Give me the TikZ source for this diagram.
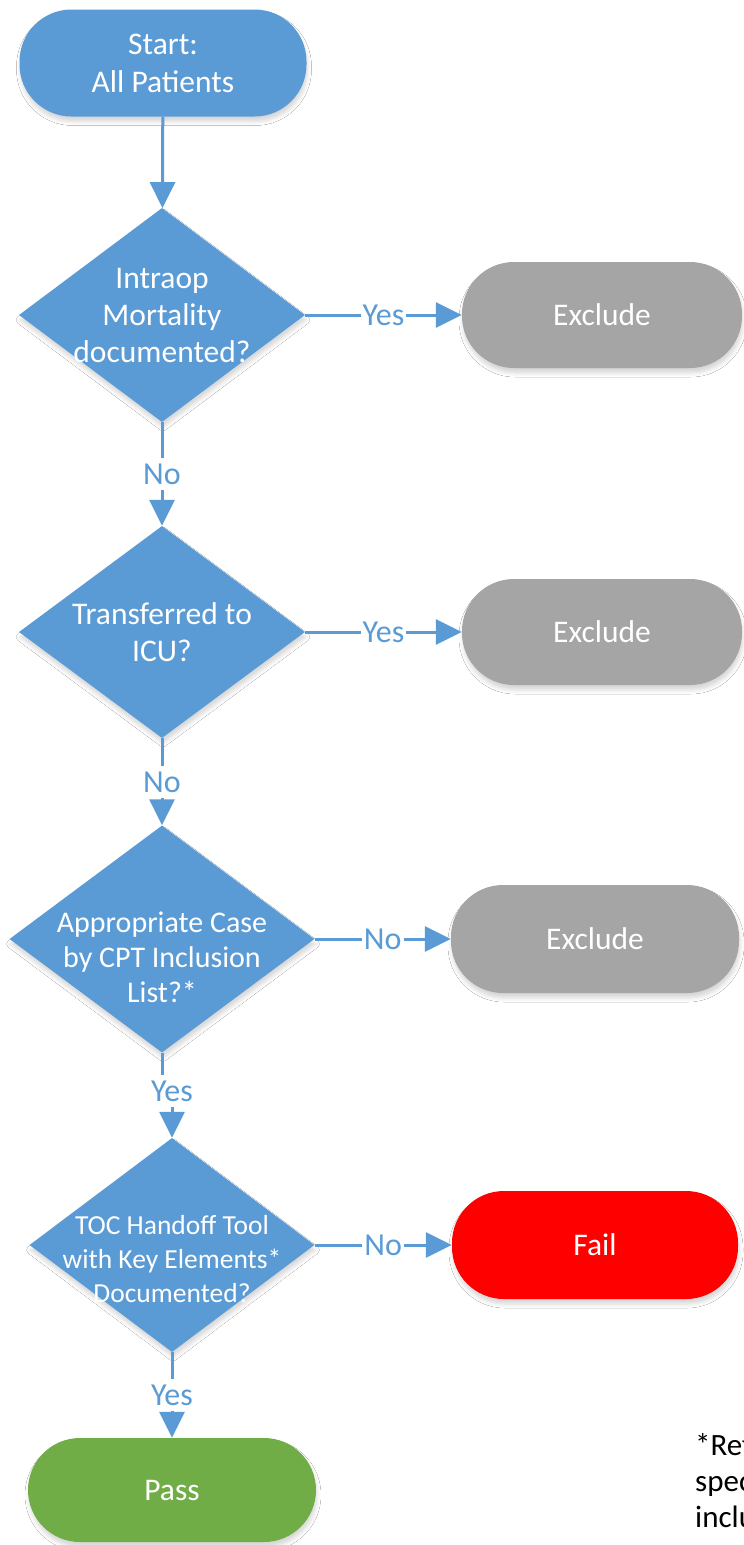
\documentclass[tikz,border=0pt]{standalone}
\usepackage{fontspec}
\setmainfont{Carlito}
\usetikzlibrary{shapes.geometric,arrows.meta,shadows.blur}
\definecolor{flowblue}{HTML}{5B9BD5}
\definecolor{flowgray}{HTML}{A5A5A5}
\definecolor{flowred}{HTML}{FF0000}
\definecolor{flowgreen}{HTML}{70AD47}
\begin{document}
\begin{tikzpicture}[x=1pt,y=-1pt,
  softshadow/.style={blur shadow={shadow xshift=1pt,shadow yshift=-5pt,shadow blur radius=4pt,shadow opacity=16}},
  term/.style={rectangle,rounded corners=52pt,inner sep=0pt,text=white,align=center,
    font=\fontsize{31.5}{38}\selectfont,softshadow},
  dia/.style={diamond,inner sep=0pt,fill=flowblue,softshadow},
  dtext/.style={inner sep=0pt,text=white,align=center,font=\fontsize{31.5}{37}\selectfont},
  lab/.style={fill=white,text=flowblue,inner xsep=2pt,inner ysep=5pt,font=\fontsize{32}{36}\selectfont},
  conn/.style={draw=flowblue,line width=3pt},
  arr/.style={conn,-{Triangle[width=25pt,length=26pt]}}]
\useasboundingbox (0,0) rectangle (744,1545);
\fill[white] (0,0) rectangle (744,1545);
\clip (0,0) rectangle (744,1545);

% terminators
\node[term,fill=flowblue,minimum width=287pt,minimum height=107pt] (start) at (163,63) {Start:\\All Patients};
\node[term,fill=flowgray,minimum width=280pt,minimum height=106pt] (e1) at (602,315) {Exclude};
\node[term,fill=flowgray,minimum width=280pt,minimum height=106pt] (e2) at (602,632) {Exclude};
\node[term,fill=flowgray,minimum width=288pt,minimum height=108pt] (e3) at (595,939) {Exclude};
\node[term,fill=flowred,minimum width=286pt,minimum height=108pt] (fail) at (595,1245) {Fail};
\node[term,fill=flowgreen,minimum width=288pt,minimum height=104pt] (pass) at (172,1490) {Pass};

% decisions
\node[dia,minimum width=286pt,minimum height=214pt] (d1) at (162,315) {};
\node[dtext] (t1) at (162,316) {Intraop\\Mortality\\documented?};
\node[dia,minimum width=286pt,minimum height=212pt] (d2) at (162,632) {};
\node[dtext] (t2) at (162,632) {Transferred to\\ICU?};
\node[dia,minimum width=305pt,minimum height=227pt] (d3) at (162,939) {};
\node[dtext,font=\fontsize{30}{35}\selectfont] (t3) at (162,957) {Appropriate Case\\by CPT Inclusion\\List?*};
\node[dia,minimum width=285pt,minimum height=214pt] (d4) at (172,1245) {};
\node[dtext,font=\fontsize{27.5}{34}\selectfont] (t4) at (172,1259) {TOC Handoff Tool\\with Key Elements*\\Documented?};

% vertical connectors
\draw[arr] (start) -- (d1);
\node[lab] (l1) at (162,474) {No};
\draw[conn] (d1.south) -- (l1.north);
\draw[arr] (l1.south) -- (d2.north);
\node[lab] (l2) at (162,782) {No};
\draw[conn] (d2.south) -- (l2.north);
\draw[arr] (l2.south) -- (d3.north);
\node[lab] (l3) at (172,1091) {Yes};
\draw[conn] (d3.south) -- (d3.south |- l3.north);
\draw[arr] (l3.south) -- (d4.north);
\node[lab] (l4) at (172,1395) {Yes};
\draw[conn] (d4.south) -- (l4.north);
\draw[arr] (l4.south) -- (pass.north);

% horizontal connectors
\draw[arr] (d1.east) -- node[lab] {Yes} (e1.west);
\draw[arr] (d2.east) -- node[lab] {Yes} (e2.west);
\draw[arr] (d3.east) -- node[lab] {No} (e3.west);
\draw[arr] (d4.east) -- node[lab] {No} (fail.west);

% footnote (cut off at the right edge, as in the reference)
\node[anchor=north west,inner sep=0pt,align=left,font=\fontsize{31}{36}\selectfont] (note) at (695,1433) {*Ref\\spec\\inclu};
\end{tikzpicture}
\end{document}
